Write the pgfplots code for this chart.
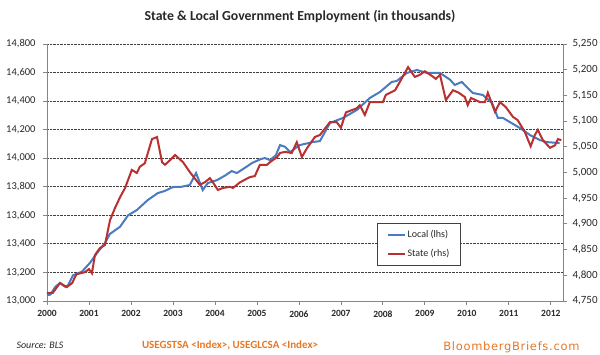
\documentclass[border=0pt]{standalone}
\usepackage{pgfplots}
\pgfplotsset{compat=1.18}
\usepackage{fontspec}
\setmainfont{Carlito}
\newfontfamily\bbfont[LetterSpace=6]{DejaVu Sans}
\definecolor{locblue}{RGB}{74,122,192}
\definecolor{stred}{RGB}{185,48,48}
\definecolor{axgray}{RGB}{134,134,134}
\definecolor{bborange}{RGB}{232,119,34}
\definecolor{txt}{RGB}{40,40,40}
\begin{document}
\begin{tikzpicture}[x=1pt,y=1pt]
\useasboundingbox (-47,-54) rectangle (553,301);
\begin{axis}[
  at={(0,0)}, anchor=south west,
  scale only axis, width=516pt, height=257pt,
  xmin=2000, xmax=2012.29, ymin=13000, ymax=14800,
  axis x line*=bottom, axis y line*=left,
  axis line style={axgray, line width=0.8pt},
  xtick={2000,2001,2002,2003,2004,2005,2006,2007,2008,2009,2010,2011,2012},
  xticklabels={2000,2001,2002,2003,2004,2005,2006,2007,2008,2009,2010,2011,2012},
  ytick={13000,13200,13400,13600,13800,14000,14200,14400,14600,14800},
  scaled y ticks=false,
  tick align=outside, major tick length=4pt,
  tick style={axgray, line width=0.8pt},
  ymajorgrids, major grid style={densely dotted, black!75, line width=0.9pt},
  /pgf/number format/.cd, 1000 sep={,}, assume math mode=true, /pgfplots/.cd,
  xticklabel style={font=\bfseries\fontsize{9.5}{10}\selectfont, text=txt, yshift=-2pt},
  yticklabel style={font=\fontsize{10.5}{12}\selectfont, text=txt, xshift=-4pt},
]
\addplot[locblue, line width=2pt] coordinates {
(2000.0,13040) (2000.08,13045) (2000.2,13100) (2000.31,13126) (2000.43,13100)
(2000.5,13110) (2000.62,13180) (2000.83,13205) (2001.02,13266) (2001.21,13343)
(2001.38,13406) (2001.5,13470) (2001.74,13520) (2001.93,13600) (2002.14,13637)
(2002.4,13707) (2002.64,13756) (2002.8,13770) (2003.0,13798) (2003.2,13800)
(2003.4,13812) (2003.55,13896) (2003.71,13777) (2003.83,13826) (2004.05,13847)
(2004.25,13880) (2004.4,13910) (2004.52,13896) (2004.7,13930) (2004.88,13966)
(2005.1,13995) (2005.19,14001) (2005.31,13987) (2005.45,14020) (2005.55,14092)
(2005.67,14080) (2005.79,14043) (2006.02,14092) (2006.33,14113) (2006.5,14120)
(2006.74,14247) (2007.05,14282) (2007.38,14338) (2007.69,14422) (2007.93,14464)
(2008.21,14534) (2008.33,14541) (2008.57,14597) (2008.81,14618) (2009.05,14597)
(2009.36,14597) (2009.6,14550) (2009.71,14513) (2009.88,14534) (2010.14,14457)
(2010.38,14443) (2010.6,14387) (2010.74,14282) (2010.86,14282) (2011.26,14212)
(2011.5,14163) (2011.74,14127) (2011.9,14113) (2012.21,14106)
};
\end{axis}
\begin{axis}[
  at={(0,0)}, anchor=south west,
  scale only axis, width=516pt, height=257pt,
  xmin=2000, xmax=2012.29, ymin=4750, ymax=5250,
  axis x line=none, axis y line*=right,
  axis line style={axgray, line width=0.8pt},
  ytick={4750,4800,4850,4900,4950,5000,5050,5100,5150,5200,5250},
  scaled y ticks=false,
  tick align=outside, major tick length=4pt,
  tick style={axgray, line width=0.8pt},
  /pgf/number format/.cd, 1000 sep={,}, assume math mode=true, /pgfplots/.cd,
  yticklabel style={font=\fontsize{11}{13}\selectfont, text=txt, xshift=2pt},
  legend style={at={(rel axis cs:0.64,0.303)}, anchor=north west,
    draw=black!75, line width=0.8pt, font=\fontsize{10}{12}\selectfont,
    text=txt, row sep=6pt, inner xsep=9pt, inner ysep=5pt},
  legend cell align=left,
  legend image code/.code={\draw[#1, line width=2pt] (0pt,0pt) -- (17pt,0pt);},
]
\addlegendimage{locblue}
\addlegendentry{Local (lhs)}
\addplot[stred, line width=2pt] coordinates {
(2000.0,4766) (2000.14,4766) (2000.31,4785) (2000.47,4777) (2000.6,4785)
(2000.7,4802) (2000.9,4806) (2001.0,4812) (2001.07,4804) (2001.14,4839)
(2001.26,4853) (2001.38,4859) (2001.5,4907) (2001.62,4931) (2001.74,4952)
(2001.86,4970) (2002.02,5005) (2002.14,4999) (2002.21,5011) (2002.33,5018)
(2002.5,5065) (2002.62,5069) (2002.74,5020) (2002.81,5015) (2002.93,5024)
(2003.05,5034) (2003.24,5020) (2003.4,5001) (2003.64,4976) (2003.76,4981)
(2003.88,4989) (2003.95,4981) (2004.07,4966) (2004.19,4970) (2004.36,4972)
(2004.43,4970) (2004.6,4981) (2004.83,4991) (2004.95,4993) (2005.07,5015)
(2005.24,5015) (2005.31,5020) (2005.48,5030) (2005.55,5038) (2005.67,5040)
(2005.83,5038) (2005.95,5059) (2006.07,5030) (2006.19,5047) (2006.38,5069)
(2006.5,5073) (2006.74,5098) (2006.9,5098) (2007.0,5087) (2007.12,5117)
(2007.38,5125) (2007.45,5131) (2007.57,5112) (2007.69,5137) (2008.0,5137)
(2008.07,5151) (2008.29,5160) (2008.43,5180) (2008.6,5205) (2008.76,5186)
(2008.88,5190) (2009.0,5197) (2009.2,5186) (2009.26,5182) (2009.36,5190)
(2009.5,5141) (2009.67,5160) (2009.79,5156) (2009.95,5147) (2010.02,5131)
(2010.1,5145) (2010.31,5137) (2010.43,5137) (2010.5,5155) (2010.67,5118)
(2010.79,5137) (2010.93,5127) (2011.1,5108) (2011.21,5102) (2011.38,5079)
(2011.52,5051) (2011.62,5073) (2011.69,5083) (2011.81,5063) (2011.98,5048)
(2012.1,5053) (2012.17,5065) (2012.25,5063)
};
\addlegendentry{State (rhs)}
\end{axis}
\node[font=\bfseries\fontsize{13.8}{15}\selectfont, text=txt] at (253,285) {State \& Local Government Employment (in thousands)};
\node[anchor=west, font=\itshape\fontsize{10}{12}\selectfont, text=txt] at (-34,-44) {Source: BLS};
\node[font=\bfseries\fontsize{11}{13}\selectfont, text=bborange] at (183,-44) {USEGSTSA <Index>, USEGLCSA <Index>};
\node[anchor=east, font=\bbfont\fontsize{11.5}{13}\selectfont, text=bborange] at (536,-46) {BloombergBriefs.com};
\end{tikzpicture}
\end{document}
